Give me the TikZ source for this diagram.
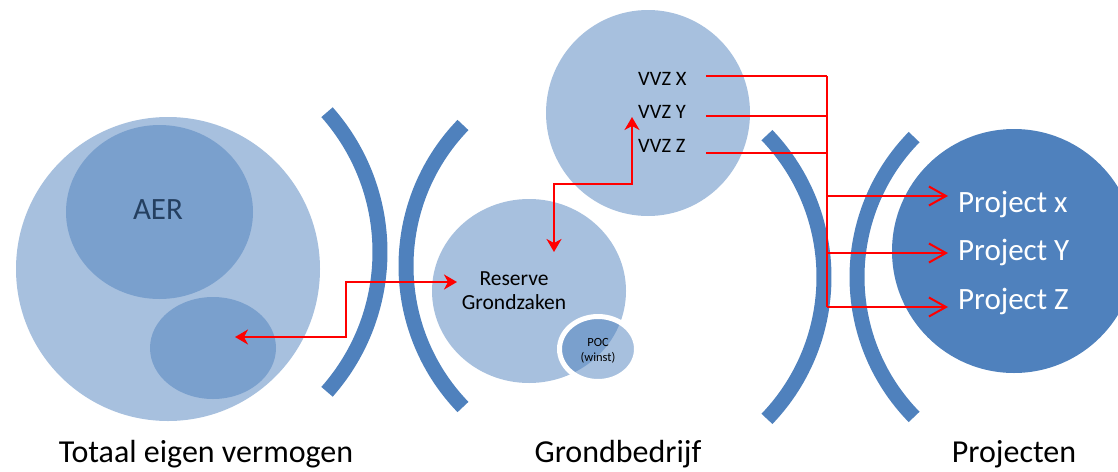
\documentclass[tikz,border=0pt]{standalone}
\usepackage{fontspec}
\setmainfont{Carlito}
\usetikzlibrary{arrows.meta,shapes.geometric}
\definecolor{accent}{HTML}{4F81BD}
\definecolor{aertext}{HTML}{243F60}
\begin{document}
\begin{tikzpicture}[x=1pt,y=-1pt,
  soft/.style={ellipse, fill=accent, fill opacity=0.5, draw=none, inner sep=0pt},
  bracket/.style={draw=accent, line width=15pt, line cap=butt},
  link/.style={draw=red, line width=2pt},
  dbl/.style={link, {Stealth[length=13pt,width=15pt,inset=4pt]}-{Stealth[length=13pt,width=15pt,inset=4pt]}},
  fan/.style={link, -{Straight Barb[length=17pt,width=19pt,line width=2pt]}},
  lbl/.style={inner sep=0pt, font=\fontsize{32}{38}\selectfont},
  vvz/.style={inner sep=0pt, anchor=base west, font=\fontsize{20.5}{24}\selectfont},
  proj/.style={inner sep=0pt, anchor=base west, text=white, font=\fontsize{31}{37}\selectfont}
]
\path[use as bounding box, clip] (0,0) rectangle (1118,471);

% left group
\node[soft, minimum width=304pt, minimum height=304pt] (total) at (168,269) {};
\node[soft, minimum width=187pt, minimum height=174pt] (aer) at (159.5,212) {};
\node[soft, minimum width=126pt, minimum height=102pt] (part) at (213,348) {};
\node[inner sep=0pt, anchor=base, text=aertext, font=\fontsize{31}{36}\selectfont] (aerlbl) at (158,219) {AER};

% brackets
\draw[bracket] (169,252) ++(-41.5:211) arc[start angle=-41.5, end angle=41.5, radius=211];
\draw[bracket] (609,266) ++(136:203) arc[start angle=136, end angle=224, radius=203];
\draw[bracket] (619,277) ++(-43.8:205) arc[start angle=-43.8, end angle=43.8, radius=205];
\draw[bracket] (1057,277) ++(135.6:200) arc[start angle=135.6, end angle=224.4, radius=200];

% grondbedrijf
\node[soft, minimum width=194pt, minimum height=184pt] (reserve) at (529,291) {};
\node[ellipse, fill=accent, fill opacity=0.5, draw=white, line width=5pt, inner sep=0pt,
      minimum width=77pt, minimum height=65pt] (poc) at (598,349) {};
\node[inner sep=0pt, align=center, font=\fontsize{12.5}{15}\selectfont] (poclbl) at (598,351) {POC\\(winst)};
\node[inner sep=0pt, align=center, font=\fontsize{21.5}{24}\selectfont] (reslbl) at (514,291) {Reserve\\Grondzaken};
\node[soft, minimum width=204pt, minimum height=206pt] (vvz) at (648,113) {};
\node[vvz] (vx) at (638,85) {VVZ X};
\node[vvz] (vy) at (638,118) {VVZ Y};
\node[vvz] (vz) at (638,152) {VVZ Z};

% projects
\node[circle, fill=accent, inner sep=0pt, minimum size=244pt] (projects) at (1014,251) {};
\node[proj] (px) at (958,212) {Project x};
\node[proj] (py) at (958,260) {Project Y};
\node[proj] (pz) at (958,309) {Project Z};

% captions
\node[lbl, anchor=base] (c1) at (206,462) {Totaal eigen vermogen};
\node[lbl, anchor=base] (c2) at (618,462) {Grondbedrijf};
\node[lbl, anchor=base] (c3) at (1014,462) {Projecten};

% red connectors
\coordinate (partTip) at (235,337);
\coordinate (resTipL) at (457,282);
\coordinate (resTipT) at (554,252);
\coordinate (vvzTip) at (632,117);
\draw[dbl] (partTip) -- (346,337) -- (346,282) -- (resTipL);
\draw[dbl] (resTipT) -- (554,184) -- (632,184) -- (vvzTip);

\coordinate (ax) at (706,76);
\coordinate (ay) at (706,116);
\coordinate (az) at (706,153);
\coordinate (bus) at (827,76);
\coordinate (busEnd) at (827,307);
\draw[link] (ax) -- (bus);
\draw[link] (ay) -- (827,116);
\draw[link] (az) -- (827,153);
\draw[link] (bus) -- (busEnd);
\coordinate (tx) at (948,196);
\coordinate (ty) at (948,253);
\coordinate (tz) at (948,307);
\draw[fan] (827,196) -- (tx);
\draw[fan] (827,253) -- (ty);
\draw[fan] (busEnd) -- (tz);
\end{tikzpicture}
\end{document}
